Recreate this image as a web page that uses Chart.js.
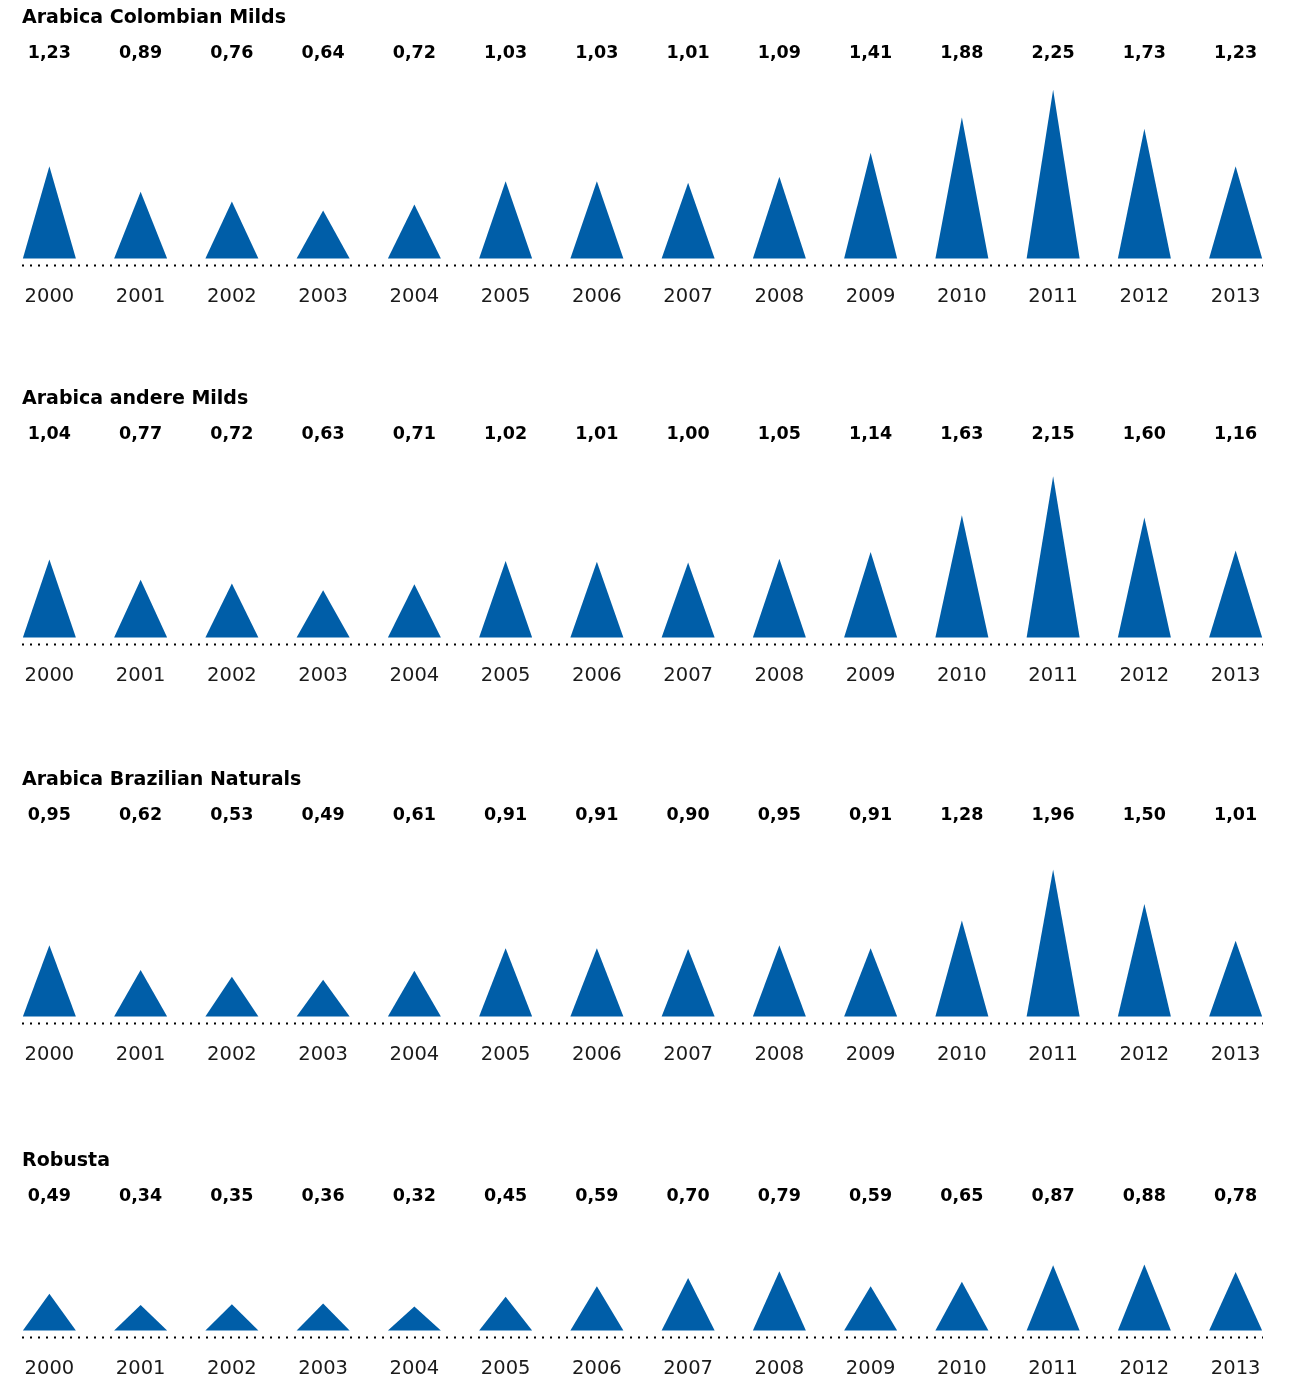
<!DOCTYPE html>
<html>
<head>
<meta charset="utf-8">
<script src="https://cdn.jsdelivr.net/npm/chart.js@4"></script>
<style>
  html, body { margin: 0; background: #fff; overflow: hidden; }
  canvas { display: block; }
</style>
</head>
<body>
<canvas id="c0" width="1298" height="381"></canvas>
<canvas id="c1" width="1298" height="381"></canvas>
<canvas id="c2" width="1298" height="381"></canvas>
<canvas id="c3" width="1298" height="259"></canvas>
<script>
const years = ['2000', '2001', '2002', '2003', '2004', '2005', '2006', '2007', '2008', '2009', '2010', '2011', '2012', '2013'];

const colombianMilds    = [1.23, 0.89, 0.76, 0.64, 0.72, 1.03, 1.03, 1.01, 1.09, 1.41, 1.88, 2.25, 1.73, 1.23];
const andereMilds       = [1.04, 0.77, 0.72, 0.63, 0.71, 1.02, 1.01, 1.00, 1.05, 1.14, 1.63, 2.15, 1.60, 1.16];
const brazilianNaturals = [0.95, 0.62, 0.53, 0.49, 0.61, 0.91, 0.91, 0.90, 0.95, 0.91, 1.28, 1.96, 1.50, 1.01];
const robusta           = [0.49, 0.34, 0.35, 0.36, 0.32, 0.45, 0.59, 0.70, 0.79, 0.59, 0.65, 0.87, 0.88, 0.78];

const titles = ['Arabica Colombian Milds', 'Arabica andere Milds', 'Arabica Brazilian Naturals', 'Robusta'];

const BLUE = '#005ea8';
const PX_PER_UNIT = 75;   // same vertical scale in every panel
const GAP = 7;            // px between triangle base and dotted line

// bars are invisible, we paint a triangle in each bar's box instead
const triangles = {
  id: 'triangles',
  afterDatasetsDraw(chart) {
    const ctx = chart.ctx;
    ctx.save();
    ctx.fillStyle = BLUE;
    chart.getDatasetMeta(0).data.forEach(bar => {
      const p = bar.getProps(['x', 'y', 'base', 'width'], true);
      ctx.beginPath();
      ctx.moveTo(p.x - p.width / 2, p.base);
      ctx.lineTo(p.x, p.y);
      ctx.lineTo(p.x + p.width / 2, p.base);
      ctx.closePath();
      ctx.fill();
    });
    ctx.restore();
  }
};

// dotted baseline along the bottom of the plot area
const dottedBase = {
  id: 'dottedBase',
  afterDraw(chart) {
    const { ctx, chartArea } = chart;
    ctx.save();
    ctx.strokeStyle = '#000';
    ctx.lineWidth = 2;
    ctx.setLineDash([2, 6]);
    ctx.beginPath();
    ctx.moveTo(chartArea.left, chartArea.bottom);
    ctx.lineTo(chartArea.right, chartArea.bottom);
    ctx.stroke();
    ctx.restore();
  }
};

function fmt(v) {
  return v.toFixed(2).replace('.', ',');
}

function yearTicks(axis) {
  axis.ticks = years.map((y, i) => ({ value: i }));
}

function makeChart(id, title, values, padBottom) {
  const yMin = -GAP / PX_PER_UNIT;
  const chart = new Chart(document.getElementById(id), {
    type: 'bar',
    data: {
      datasets: [{
        data: values.map((v, i) => ({ x: i, y: v })),
        backgroundColor: 'rgba(0,0,0,0)',
        barThickness: 53
      }]
    },
    options: {
      responsive: false,
      animation: false,
      layout: { padding: { left: 22, right: 35, top: 0, bottom: padBottom } },
      plugins: {
        legend: { display: false },
        tooltip: { enabled: false },
        title: {
          display: true,
          text: title,
          align: 'start',
          color: '#000',
          font: { family: 'DejaVu Sans', weight: 'bold', size: 19 },
          padding: { top: 7, bottom: 13 }
        }
      },
      scales: {
        x: {
          type: 'linear',
          offset: false,
          min: -0.3,
          max: 13.3,
          afterBuildTicks: yearTicks,
          grid: { display: false, drawTicks: false },
          border: { display: false },
          ticks: {
            callback: v => years[v],
            color: '#1a1a1a',
            font: { family: 'DejaVu Sans', size: 19.5 },
            padding: 20,
            maxRotation: 0,
            autoSkip: false
          }
        },
        x2: {
          type: 'linear',
          axis: 'x',
          position: 'top',
          offset: false,
          min: -0.3,
          max: 13.3,
          afterBuildTicks: yearTicks,
          grid: { display: false, drawTicks: false },
          border: { display: false },
          ticks: {
            callback: v => fmt(values[v]),
            color: '#000',
            font: { family: 'DejaVu Sans', weight: 'bold', size: 17.5 },
            padding: 0,
            maxRotation: 0,
            autoSkip: false
          }
        },
        y: { display: false, min: yMin, max: 3 }
      }
    },
    plugins: [triangles, dottedBase]
  });
  // fix the y range so one unit is PX_PER_UNIT pixels tall
  const area = chart.chartArea;
  chart.options.scales.y.max = yMin + (area.bottom - area.top) / PX_PER_UNIT;
  chart.update('none');
  return chart;
}

makeChart('c0', titles[0], colombianMilds, 52);
makeChart('c1', titles[1], andereMilds, 54);
makeChart('c2', titles[2], brazilianNaturals, 56);
makeChart('c3', titles[3], robusta, 1);
</script>
</body>
</html>
